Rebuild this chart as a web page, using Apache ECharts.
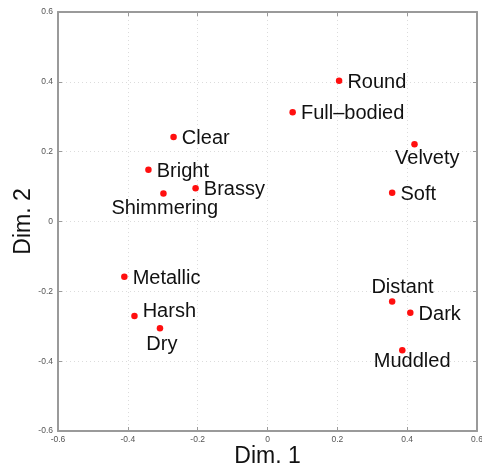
<!DOCTYPE html>
<html>
<head>
<meta charset="utf-8">
<script src="https://cdn.jsdelivr.net/npm/echarts@6/dist/echarts.min.js"></script>
<style>html,body{margin:0;padding:0;background:#fff}#c{width:482px;height:468px}</style>
</head>
<body>
<div id="c"></div>
<script>
// Data
var names = ['Round','Full–bodied','Velvety','Clear','Bright','Brassy','Shimmering','Soft','Metallic','Harsh','Dry','Distant','Dark','Muddled'];
var dim1  = [0.205, 0.072, 0.421, -0.269, -0.341, -0.206, -0.298, 0.357, -0.410, -0.381, -0.308, 0.357, 0.409, 0.386];
var dim2  = [0.403, 0.313, 0.221, 0.242, 0.148, 0.095, 0.080, 0.082, -0.158, -0.271, -0.306, -0.229, -0.261, -0.369];
var xTicks = [-0.6,-0.4,-0.2,0,0.2,0.4,0.6];
var yTicks = [-0.6,-0.4,-0.2,0,0.2,0.4,0.6];

// Label placement styles (align, offset)
var labelStyle = {
  'Velvety':    {align:'center', offset:[12.8, 14.5]},
  'Shimmering': {align:'center', offset:[1.3, 14.5]},
  'Dry':        {align:'center', offset:[1.9, 15.8]},
  'Muddled':    {align:'center', offset:[9.9, 11.3]},
  'Distant':    {align:'center', offset:[10.4, -13.5]},
  'Harsh':      {align:'left',   offset:[8.2, -4.5]}
};
var defLabel = {align:'left', offset:[8.3, 1.5]};

var data = names.map(function(n, i){
  var s = labelStyle[n] || defLabel;
  return {
    name: n,
    value: [dim1[i], dim2[i]],
    label: {show:true, formatter:n, position:'inside', align:s.align, verticalAlign:'middle', offset:s.offset}
  };
});

var chart = echarts.init(document.getElementById('c'), null, {renderer:'canvas'});
var fmt = function(v){ return (Math.round(v*10)/10).toString(); };
var tickLbl = {color:'#555', fontSize:8.5, fontFamily:'Liberation Sans, Arial, sans-serif', formatter:fmt};
var axisLine = {show:true, onZero:false, lineStyle:{color:'#9a9a9a', width:2}};
var gridLine = {show:true, lineStyle:{color:'#dcdcdc', type:[1,3], width:1}};
var tick = {show:true, inside:true, length:4, lineStyle:{color:'#9a9a9a', width:1}};

chart.setOption({
  animation:false,
  backgroundColor:'#fff',
  grid:{left:58, right:5, top:12, bottom:37, containLabel:false, outerBoundsMode:'none'},
  xAxis:[{
    type:'value', min:xTicks[0], max:xTicks[xTicks.length-1], interval:0.2,
    name:'Dim. 1', nameLocation:'middle', nameGap:14, nameMoveOverlap:false,
    nameTextStyle:{fontSize:23, color:'#111', fontFamily:'Liberation Sans, Arial, sans-serif'},
    axisLine:axisLine, axisTick:tick, splitLine:gridLine,
    axisLabel:Object.assign({margin:4}, tickLbl)
  },{
    type:'value', position:'top', min:xTicks[0], max:xTicks[xTicks.length-1], interval:0.2,
    axisLine:axisLine, axisTick:tick, splitLine:{show:false}, axisLabel:{show:false}
  }],
  yAxis:[{
    type:'value', min:yTicks[0], max:yTicks[yTicks.length-1], interval:0.2,
    name:'Dim. 2', nameLocation:'middle', nameGap:23, nameRotate:90, nameMoveOverlap:false,
    nameTextStyle:{fontSize:23, color:'#111', fontFamily:'Liberation Sans, Arial, sans-serif'},
    axisLine:axisLine, axisTick:tick, splitLine:gridLine,
    axisLabel:Object.assign({margin:5}, tickLbl)
  },{
    type:'value', position:'right', min:yTicks[0], max:yTicks[yTicks.length-1], interval:0.2,
    axisLine:axisLine, axisTick:tick, splitLine:{show:false}, axisLabel:{show:false}
  }],
  series:[{
    type:'scatter', xAxisIndex:0, yAxisIndex:0,
    symbol:'circle', symbolSize:6.5,
    itemStyle:{color:'#ff0f0f', opacity:1},
    label:{color:'#111', fontSize:20, fontFamily:'Liberation Sans, Arial, sans-serif'},
    emphasis:{disabled:true},
    data:data
  }]
});
</script>
</body>
</html>
